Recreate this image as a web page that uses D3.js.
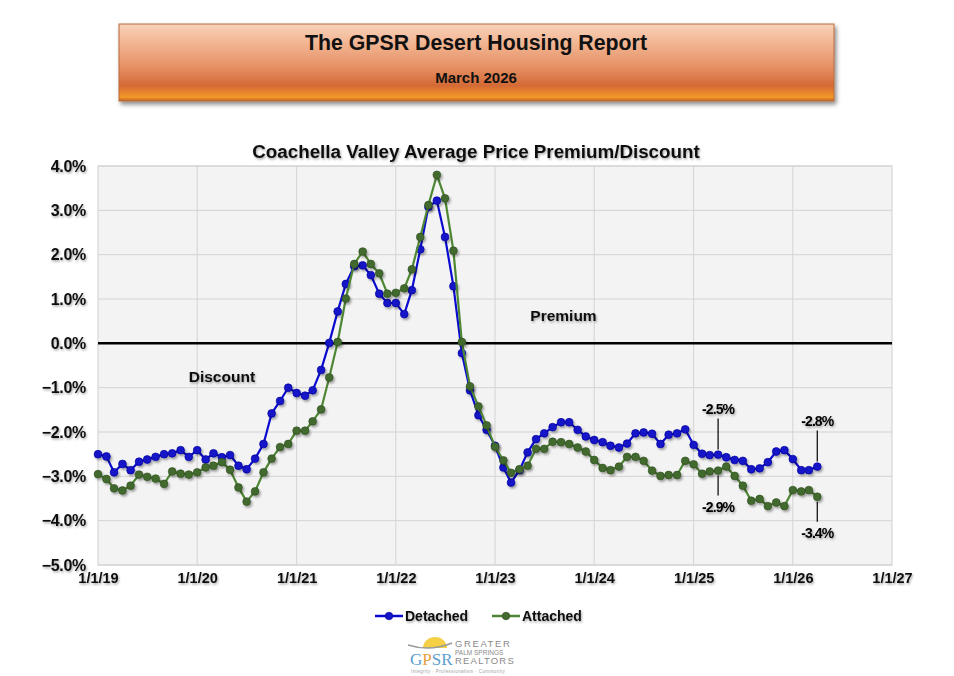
<!DOCTYPE html>
<html>
<head>
<meta charset="utf-8">
<script src="https://cdn.jsdelivr.net/npm/d3@7/dist/d3.min.js"></script>
<style>
  html, body { margin: 0; padding: 0; background: #ffffff; }
  svg { display: block; font-family: "Liberation Sans", Arial, sans-serif; }
</style>
</head>
<body>
<svg id="chart" width="954" height="676"></svg>
<script>
// ---------------- DATA ----------------
const startMonth = "2019-01-01";   // first monthly observation
const detached = [
  -2.50, -2.55, -2.91, -2.72, -2.86, -2.67, -2.62, -2.56, -2.50, -2.48, -2.41, -2.56,
  -2.41, -2.62, -2.48, -2.57, -2.52, -2.76, -2.84, -2.60, -2.27, -1.58, -1.30, -1.00,
  -1.12, -1.18, -1.06, -0.60,  0.01,  0.72,  1.34,  1.74,  1.76,  1.54,  1.12,  0.91,
   0.91,  0.66,  1.20,  2.12,  3.08,  3.22,  2.40,  1.29, -0.22, -1.06, -1.62, -1.95,
  -2.31, -2.80, -3.14, -2.86, -2.46, -2.16, -2.03, -1.89, -1.78, -1.78, -1.95, -2.10,
  -2.18, -2.23, -2.31, -2.35, -2.26, -2.03, -2.01, -2.04, -2.27, -2.06, -2.03, -1.94,
  -2.29, -2.49, -2.52, -2.51, -2.57, -2.63, -2.65, -2.84, -2.82, -2.68, -2.44, -2.41,
  -2.61, -2.86, -2.86, -2.78
];
const attached = [
  -2.95, -3.06, -3.27, -3.32, -3.21, -2.96, -3.01, -3.05, -3.17, -2.89, -2.94, -2.96,
  -2.91, -2.80, -2.76, -2.68, -2.85, -3.25, -3.57, -3.34, -2.91, -2.60, -2.34, -2.27,
  -1.97, -1.97, -1.76, -1.49, -0.77,  0.03,  1.01,  1.79,  2.07,  1.79,  1.58,  1.12,
   1.14,  1.24,  1.67,  2.40,  3.12,  3.80,  3.27,  2.09,  0.03, -0.97, -1.42, -1.85,
  -2.33, -2.64, -2.92, -2.84, -2.76, -2.38, -2.38, -2.22, -2.23, -2.27, -2.35, -2.44,
  -2.63, -2.81, -2.86, -2.78, -2.56, -2.56, -2.65, -2.87, -2.99, -2.97, -2.97, -2.65,
  -2.73, -2.94, -2.89, -2.87, -2.78, -2.99, -3.21, -3.55, -3.51, -3.67, -3.59, -3.67,
  -3.31, -3.34, -3.31, -3.46
];
const seriesNames = ["Detached", "Attached"];
const xTickLabels = ["1/1/19","1/1/20","1/1/21","1/1/22","1/1/23","1/1/24","1/1/25","1/1/26","1/1/27"];
const yTicks = [4, 3, 2, 1, 0, -1, -2, -3, -4, -5];
const annotations = [ // [series, month index, label, above?]
  ["Detached", 75, "-2.5%", true],
  ["Attached", 75, "-2.9%", false],
  ["Detached", 87, "-2.8%", true],
  ["Attached", 87, "-3.4%", false]
];
const regionLabels = [ ["Discount", "2020-04-01", -0.75], ["Premium", "2023-09-10", 0.62] ];
const reportTitle = "The GPSR Desert Housing Report";
const reportDate = "March 2026";
const chartTitle = "Coachella Valley Average Price Premium/Discount";

// ---------------- SETUP ----------------
const svg = d3.select("#chart");
const defs = svg.append("defs");
const parse = d3.timeParse("%Y-%m-%d");
const t0 = parse(startMonth);
const dateAt = i => d3.timeMonth.offset(t0, i);

const grad = defs.append("linearGradient").attr("id", "banner").attr("x1", 0).attr("y1", 0).attr("x2", 0).attr("y2", 1);
[["0%", "#f8d2ba"], ["25%", "#f2b592"], ["55%", "#e69166"], ["80%", "#d46a36"], ["89%", "#e7852c"], ["95%", "#f29a26"], ["100%", "#bf6229"]]
  .forEach(([o, c]) => grad.append("stop").attr("offset", o).attr("stop-color", c));

const sh = defs.append("filter").attr("id", "shadow").attr("x", "-50%").attr("y", "-50%").attr("width", "200%").attr("height", "200%");
sh.append("feDropShadow").attr("dx", 1.5).attr("dy", 2).attr("stdDeviation", 1.2).attr("flood-color", "#000").attr("flood-opacity", 0.35);
const tsh = defs.append("filter").attr("id", "tshadow").attr("x", "-20%").attr("y", "-40%").attr("width", "140%").attr("height", "180%");
tsh.append("feDropShadow").attr("dx", 1).attr("dy", 1.5).attr("stdDeviation", 1).attr("flood-color", "#000").attr("flood-opacity", 0.35);
const bsh = defs.append("filter").attr("id", "bshadow").attr("x", "-5%").attr("y", "-20%").attr("width", "110%").attr("height", "150%");
bsh.append("feDropShadow").attr("dx", 2).attr("dy", 3).attr("stdDeviation", 2).attr("flood-color", "#000").attr("flood-opacity", 0.45);

// ---------------- BANNER ----------------
svg.append("rect").attr("x", 119).attr("y", 24).attr("width", 715).attr("height", 77)
  .attr("fill", "url(#banner)").attr("stroke", "#b9693e").attr("stroke-width", 1).attr("filter", "url(#bshadow)");
svg.append("text").attr("x", 476).attr("y", 50).attr("text-anchor", "middle")
  .attr("font-size", 21.3).attr("font-weight", "bold").attr("fill", "#111").text(reportTitle);
svg.append("text").attr("x", 476).attr("y", 83).attr("text-anchor", "middle")
  .attr("font-size", 15).attr("font-weight", "bold").attr("fill", "#111").text(reportDate);

// ---------------- CHART ----------------
const L = 98, R = 892, T = 166, B = 565;
const x = d3.scaleTime().domain([parse("2019-01-01"), parse("2027-01-01")]).range([L, R]);
const y = d3.scaleLinear().domain([-5, 4]).range([B, T]);

svg.append("text").attr("x", 476).attr("y", 158).attr("text-anchor", "middle")
  .attr("font-size", 18.8).attr("font-weight", "bold").attr("fill", "#111")
  .attr("filter", "url(#tshadow)").text(chartTitle);

svg.append("rect").attr("x", L).attr("y", T).attr("width", R - L).attr("height", B - T)
  .attr("fill", "#f3f3f3").attr("stroke", "#cfcfcf");

const yearTicks = d3.timeYear.range(parse("2019-01-01"), parse("2027-01-02"));

// horizontal grid
svg.append("g").selectAll("line").data(yTicks.filter(v => v !== 0)).join("line")
  .attr("x1", L).attr("x2", R).attr("y1", d => y(d)).attr("y2", d => y(d))
  .attr("stroke", "#d3d3d3").attr("stroke-width", 1);
// vertical grid
svg.append("g").selectAll("line").data(yearTicks.slice(1, -1)).join("line")
  .attr("x1", d => x(d)).attr("x2", d => x(d)).attr("y1", T).attr("y2", B)
  .attr("stroke", "#d3d3d3").attr("stroke-width", 1);

// y axis labels
const yAxis = d3.axisLeft(y).tickValues(yTicks).tickSize(0).tickPadding(12)
  .tickFormat(d => d3.format(".1f")(d) + "%");
const gy = svg.append("g").attr("transform", `translate(${L},0)`).call(yAxis);
gy.select(".domain").remove();
gy.selectAll("text").attr("font-size", 16).attr("font-weight", "bold").attr("fill", "#111")
  .attr("font-family", "Liberation Sans, Arial, sans-serif").attr("letter-spacing", -0.3)
  .attr("filter", "url(#tshadow)");

// x axis labels
const xAxis = d3.axisBottom(x).tickValues(yearTicks).tickSize(0).tickPadding(8)
  .tickFormat((d, i) => xTickLabels[i]);
const gx = svg.append("g").attr("transform", `translate(0,${B})`).call(xAxis);
gx.select(".domain").remove();
gx.selectAll("text").attr("font-size", 14.5).attr("font-weight", "bold").attr("fill", "#111")
  .attr("font-family", "Liberation Sans, Arial, sans-serif").attr("filter", "url(#tshadow)");

// zero line
svg.append("line").attr("x1", L).attr("x2", R).attr("y1", y(0)).attr("y2", y(0))
  .attr("stroke", "#000").attr("stroke-width", 2.5);

// region labels
svg.append("g").selectAll("text").data(regionLabels).join("text")
  .attr("x", d => x(parse(d[1]))).attr("y", d => y(d[2]) + 5).attr("text-anchor", "middle")
  .attr("font-size", 15.5).attr("font-weight", "bold").attr("fill", "#111")
  .attr("filter", "url(#tshadow)").text(d => d[0]);

// series
const series = [
  { name: seriesNames[0], values: detached, line: "#0a0ad0", fill: "#1414c8", stroke: "#00009a" },
  { name: seriesNames[1], values: attached, line: "#4e8734", fill: "#426b2e", stroke: "#2c4a1e" }
];
const lineGen = d3.line().x((d, i) => x(dateAt(i))).y(d => y(d));

series.forEach(s => {
  const g = svg.append("g");
  g.append("path").datum(s.values).attr("d", lineGen).attr("fill", "none")
    .attr("stroke", s.line).attr("stroke-width", 2.2);
  g.append("g").attr("filter", "url(#shadow)").selectAll("circle").data(s.values).join("circle")
    .attr("cx", (d, i) => x(dateAt(i))).attr("cy", d => y(d)).attr("r", 3.9)
    .attr("fill", s.fill).attr("stroke", s.stroke).attr("stroke-width", 0.6);
});

// annotations
const byName = { Detached: detached, Attached: attached };
annotations.forEach(([name, idx, label, above]) => {
  const px = x(dateAt(idx)), py = y(byName[name][idx]);
  const y1 = above ? py - 5 : py + 5;
  const y2 = above ? py - 36 : py + 25;
  svg.append("line").attr("x1", px).attr("x2", px).attr("y1", y1).attr("y2", y2)
    .attr("stroke", "#000").attr("stroke-width", 1.2);
  svg.append("text").attr("x", px).attr("y", above ? y2 - 5 : y2 + 16)
    .attr("text-anchor", "middle").attr("font-size", 14).attr("font-weight", "bold")
    .attr("fill", "#000").attr("letter-spacing", -0.9).attr("filter", "url(#tshadow)").text(label);
});

// legend
const legend = [
  { s: series[0], x0: 375, x1: 403, tx: 405 },
  { s: series[1], x0: 492, x1: 520, tx: 522 }
];
legend.forEach(l => {
  const g = svg.append("g");
  g.append("line").attr("x1", l.x0).attr("x2", l.x1).attr("y1", 616).attr("y2", 616)
    .attr("stroke", l.s.line).attr("stroke-width", 2.5);
  g.append("circle").attr("cx", (l.x0 + l.x1) / 2).attr("cy", 616).attr("r", 3.8)
    .attr("fill", l.s.fill).attr("stroke", l.s.stroke).attr("stroke-width", 0.6);
  g.append("text").attr("x", l.tx).attr("y", 621).attr("font-size", 14).attr("font-weight", "bold")
    .attr("fill", "#111").attr("filter", "url(#tshadow)").text(l.s.name);
});

// logo
const logo = svg.append("g");
logo.append("path").attr("d", "M423,648 A12,11 0 0 1 447,648 Z").attr("fill", "#f5cf45");
logo.append("path").attr("d", "M408,645 Q430,652 452,643").attr("fill", "none").attr("stroke", "#9a9a9a").attr("stroke-width", 1.6);
const gpsr = logo.append("text").attr("x", 410).attr("y", 665).attr("font-size", 17).attr("font-family", "Liberation Serif, serif");
gpsr.append("tspan").attr("fill", "#5b9fd0").text("G");
gpsr.append("tspan").attr("fill", "#e8a040").text("P");
gpsr.append("tspan").attr("fill", "#5b9fd0").text("SR");
logo.append("text").attr("x", 455).attr("y", 647).attr("font-size", 9.5).attr("letter-spacing", 1.6)
  .attr("fill", "#8a8a8a").text("GREATER");
logo.append("text").attr("x", 455).attr("y", 655).attr("font-size", 6.5).attr("fill", "#8a8a8a").text("PALM SPRINGS");
logo.append("text").attr("x", 455).attr("y", 664).attr("font-size", 9.5).attr("letter-spacing", 1.2)
  .attr("fill", "#8a8a8a").text("REALTORS");
logo.append("text").attr("x", 411).attr("y", 673).attr("font-size", 4.5).attr("letter-spacing", 0.4)
  .attr("fill", "#a0a0a0").text("Integrity · Professionalism · Community");
</script>
</body>
</html>
